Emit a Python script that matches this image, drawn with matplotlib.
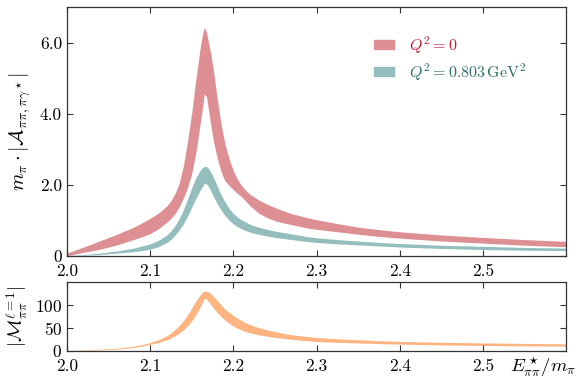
import numpy as np
import matplotlib
matplotlib.use("Agg")
import matplotlib.pyplot as plt
from matplotlib.patches import Patch

# --- STYLE ---
plt.rcParams['font.family'] = 'serif'
plt.rcParams['font.serif'] = ['cmr10', 'DejaVu Serif']
plt.rcParams['mathtext.fontset'] = 'cm'
plt.rcParams['axes.formatter.use_mathtext'] = True
plt.rcParams['axes.unicode_minus'] = False

# --- DATA ---
E = [2.00, 2.02, 2.04, 2.06, 2.08, 2.09, 2.10, 2.11, 2.12, 2.125, 2.13, 2.135,
     2.14, 2.145, 2.15, 2.155, 2.16, 2.1625, 2.165, 2.1675, 2.17, 2.1725,
     2.175, 2.1775, 2.18, 2.1825, 2.185, 2.1875, 2.19, 2.195, 2.20, 2.205,
     2.21, 2.215, 2.22, 2.23, 2.24, 2.25, 2.26, 2.27, 2.28, 2.29, 2.30,
     2.325, 2.35, 2.375, 2.40, 2.45, 2.50, 2.55, 2.60]

# Q^2 = 0 band
red_hi = [0.07, 0.24, 0.42, 0.60, 0.80, 0.92, 1.05, 1.20, 1.40, 1.55, 1.76, 2.05,
          2.55, 3.25, 4.05, 5.00, 5.85, 6.20, 6.43, 6.30, 6.00, 5.70,
          5.35, 4.95, 4.50, 4.10, 3.72, 3.40, 3.12, 2.70, 2.38, 2.14,
          1.96, 1.83, 1.72, 1.57, 1.45, 1.35, 1.26, 1.18, 1.12, 1.06, 1.01,
          0.90, 0.80, 0.73, 0.67, 0.58, 0.51, 0.45, 0.40]
red_lo = [0.00, 0.09, 0.18, 0.30, 0.45, 0.53, 0.62, 0.76, 0.94, 1.05, 1.19, 1.38,
          1.63, 1.93, 2.33, 2.93, 3.72, 4.12, 4.55, 4.48, 4.10, 3.70,
          3.35, 3.05, 2.80, 2.57, 2.38, 2.22, 2.10, 1.97, 1.85, 1.75,
          1.65, 1.52, 1.40, 1.20, 1.07, 0.98, 0.92, 0.87, 0.82, 0.77, 0.74,
          0.67, 0.60, 0.54, 0.49, 0.41, 0.35, 0.29, 0.25]

# Q^2 = 0.803 GeV^2 band
teal_hi = [0.00, 0.03, 0.07, 0.13, 0.21, 0.27, 0.33, 0.43, 0.58, 0.70, 0.85, 1.05,
           1.30, 1.60, 1.92, 2.20, 2.40, 2.47, 2.51, 2.51, 2.45, 2.36,
           2.25, 2.12, 1.98, 1.85, 1.72, 1.61, 1.50, 1.32, 1.18, 1.08,
           1.00, 0.94, 0.88, 0.80, 0.74, 0.69, 0.65, 0.61, 0.57, 0.53, 0.50,
           0.45, 0.41, 0.37, 0.34, 0.29, 0.26, 0.23, 0.21]
teal_lo = [0.00, 0.01, 0.03, 0.07, 0.11, 0.14, 0.18, 0.25, 0.37, 0.46, 0.58, 0.73,
           0.90, 1.12, 1.37, 1.62, 1.84, 1.94, 2.03, 2.02, 1.94, 1.83,
           1.71, 1.59, 1.48, 1.38, 1.29, 1.20, 1.12, 0.99, 0.89, 0.81,
           0.75, 0.70, 0.66, 0.60, 0.55, 0.51, 0.48, 0.45, 0.42, 0.39, 0.37,
           0.33, 0.30, 0.27, 0.24, 0.20, 0.17, 0.15, 0.14]

# |M^{l=1}_{pipi}| band
m_hi = [0.0, 1.5, 3.5, 5.5, 10, 13.5, 18, 24, 33, 39, 47, 56,
        66, 79, 94, 110, 123, 128, 131, 131, 129, 126,
        121, 116, 111, 106, 101, 96, 91, 84, 77, 71,
        66, 61, 57, 51, 46, 42, 38, 35, 33, 31, 29,
        26, 24, 22, 20.5, 18.5, 17, 16, 15]
m_lo = [0.0, 0.5, 1.8, 3.5, 7, 10, 14, 18, 24, 28, 33, 39,
        46, 55, 66, 80, 96, 106, 115, 114, 108, 102,
        96, 90, 85, 80, 75, 71, 67, 60, 54, 49,
        45, 42, 39, 35, 32, 29, 27, 25, 23, 21.5, 20,
        18.5, 17, 15.5, 14.5, 12.5, 11.5, 10.5, 10]

xticks = [2.0, 2.1, 2.2, 2.3, 2.4, 2.5]
xtick_labels = ["2.0", "2.1", "2.2", "2.3", "2.4", "2.5"]
top_yticks = [0, 2, 4, 6]
top_ytick_labels = ["0", "2.0", "4.0", "6.0"]
bot_yticks = [0, 50, 100]

c_red = "#de8f94"
c_teal = "#94bebd"
c_orange = "#fdb480"

# --- FIGURE ---
fig = plt.figure(figsize=(5.81, 3.89), dpi=100)
ax1 = fig.add_axes([0.1153, 0.343, 0.8597, 0.639])
ax2 = fig.add_axes([0.1153, 0.0985, 0.8597, 0.1753])

ax1.fill_between(E, red_lo, red_hi, color=c_red, lw=0)
ax1.fill_between(E, teal_lo, teal_hi, color=c_teal, lw=0)
ax2.fill_between(E, m_lo, m_hi, color=c_orange, lw=0)

for ax in (ax1, ax2):
    ax.set_xlim(2.0, 2.6)
    ax.set_xticks(xticks)
    ax.set_xticklabels(xtick_labels)
    ax.tick_params(direction='in', top=True, right=True, labelsize=12.5,
                   length=4, width=0.8, colors='#333333', labelcolor='black')
    ax.tick_params(axis='x', pad=5.5)
    for s in ax.spines.values():
        s.set_color('#333333')
        s.set_linewidth(0.9)

ax1.set_ylim(0, 7)
ax1.set_yticks(top_yticks)
ax1.set_yticklabels(top_ytick_labels)
ax1.set_ylabel(r'$m_\pi\cdot|\mathcal{A}_{\pi\pi,\pi\gamma^\star}|$', fontsize=14.5)
ax1.yaxis.set_label_coords(-0.068, 0.5)

ax2.set_ylim(0, 150)
ax2.set_yticks(bot_yticks)
ax2.set_ylabel(r'$|\mathcal{M}^{\ell=1}_{\pi\pi}|$', fontsize=13.5)
ax2.yaxis.set_label_coords(-0.076, 0.5)
ax2.text(1.02, -0.24, r'$E^\star_{\pi\pi}/m_\pi$', transform=ax2.transAxes,
         ha='right', va='center', fontsize=13.5)

handles = [Patch(color=c_red), Patch(color=c_teal)]
labels = [r'$Q^2 = 0$', r'$Q^2 = 0.803\,\mathrm{GeV}^2$']
leg = ax1.legend(handles, labels, loc='upper left', bbox_to_anchor=(0.585, 0.948),
                 frameon=False, fontsize=11.5, handlelength=1.25, handleheight=0.5,
                 handletextpad=0.95, labelspacing=0.35)
for t, col in zip(leg.get_texts(), ["#c41e3a", "#2f6f6a"]):
    t.set_color(col)

fig.savefig("out.png", dpi=100)
